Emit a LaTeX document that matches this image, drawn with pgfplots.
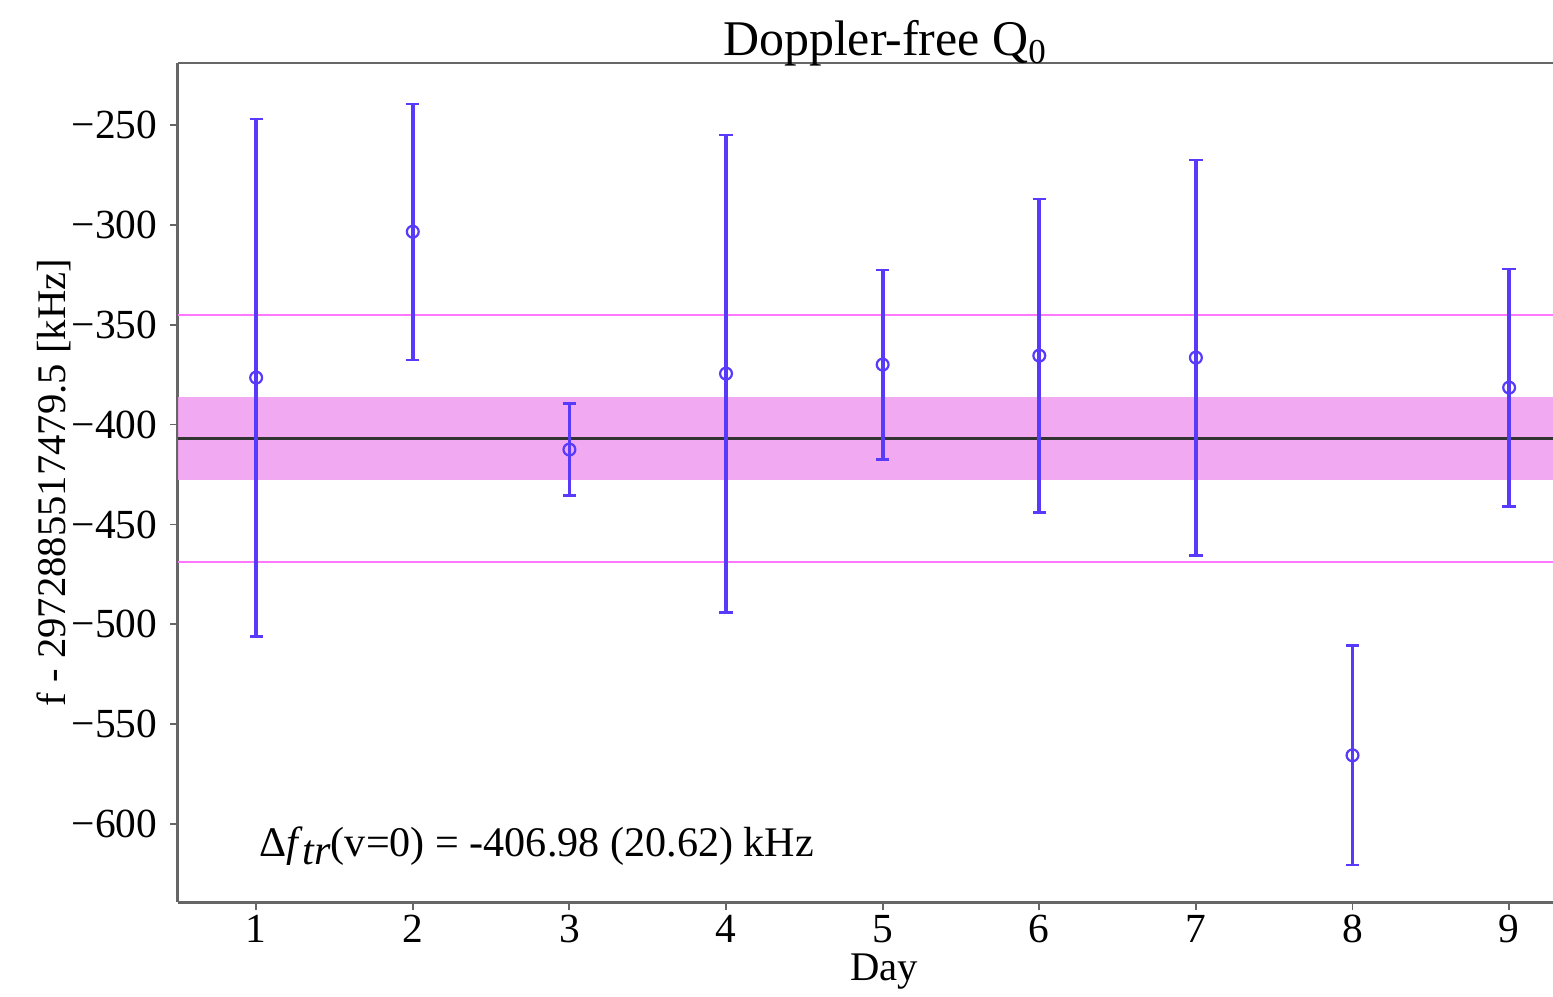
\documentclass[border=0pt]{standalone}
\usepackage{fontspec}
\setmainfont{Liberation Serif}
\usepackage{pgfplots}
\pgfplotsset{compat=1.18}
\usetikzlibrary{calc}
\definecolor{ebar}{RGB}{88,58,250}
\definecolor{band}{RGB}{240,160,240}
\definecolor{sig}{RGB}{255,120,255}
\pgfplotstableread{
x y e
1 -376.5 129.5
2 -303.5 64
3 -412.5 23
4 -374.5 119.5
5 -370 47.5
6 -365.5 78.5
7 -366.5 99
8 -565.5 55
9 -381.5 59.5
}\days
\begin{document}
\begin{tikzpicture}
\begin{axis}[
  scale only axis,
  width=371.9pt, height=227pt,
  xmin=0.5, xmax=9.28,
  ymin=-639, ymax=-219,
  axis lines=left,
  axis line style={-, draw=black!60, line width=0.8pt},
  xtick={1,...,9},
  ytick={-600,-550,-500,-450,-400,-350,-300,-250},
  yticklabels={−600,−550,−500,−450,−400,−350,−300,−250},
  tick align=outside,
  major tick length=2pt,
  tick style={black!60, line width=0.5pt},
  ticklabel style={font=\fontsize{11.2}{13}\selectfont},
  xticklabel style={yshift=2pt},
  /pgf/number format/assume math mode=true,
  xlabel={Day},
  ylabel={f - 2972885517479.5 [kHz]},
  label style={font=\fontsize{11}{13}\selectfont},
  xlabel style={xshift=5pt, yshift=4pt},
  ylabel style={yshift=-6.5pt},
  title={Doppler-free Q\textsubscript{0}},
  title style={font=\fontsize{13.5}{15}\selectfont, xshift=5.4pt, yshift=-10.5pt},
  clip=true,
]
\coordinate (SW) at (rel axis cs:0,0);
\coordinate (NE) at (rel axis cs:1,1);
\addplot[fill=band, draw=none, fill opacity=0.9] coordinates {(0.5,-386.36) (9.28,-386.36) (9.28,-427.6) (0.5,-427.6)} -- cycle;
\addplot[sig, line width=0.6pt] coordinates {(0.5,-345.12) (9.28,-345.12)};
\addplot[sig, line width=0.6pt] coordinates {(0.5,-468.84) (9.28,-468.84)};
\addplot[black!80, line width=0.9pt] coordinates {(0.5,-406.98) (9.28,-406.98)};
\addplot[ebar, only marks, mark=o, mark size=1.6pt,
  mark options={fill=white, line width=0.6pt},
  error bars/.cd, y dir=both, y explicit,
  error bar style={line width=1pt, ebar},
  error mark options={rotate=90, mark size=1.8pt, line width=0.6pt, ebar}]
  table[x=x, y=y, y error=e] {\days};
\draw[black!60, line width=0.8pt] (rel axis cs:0,1) -- (rel axis cs:1,1);
\node[anchor=west, font=\fontsize{11.4}{13}\selectfont] at (axis cs:0.935,-611)
  {Δ\textit{f}\raisebox{-0.4ex}{\textit{tr}}(v=0) = -406.98 (20.62) kHz};
\end{axis}
\pgfresetboundingbox
\path ($(SW)+(-48.1pt,-25.4pt)$) rectangle ($(NE)+(0pt,17pt)$);
\end{tikzpicture}
\end{document}
